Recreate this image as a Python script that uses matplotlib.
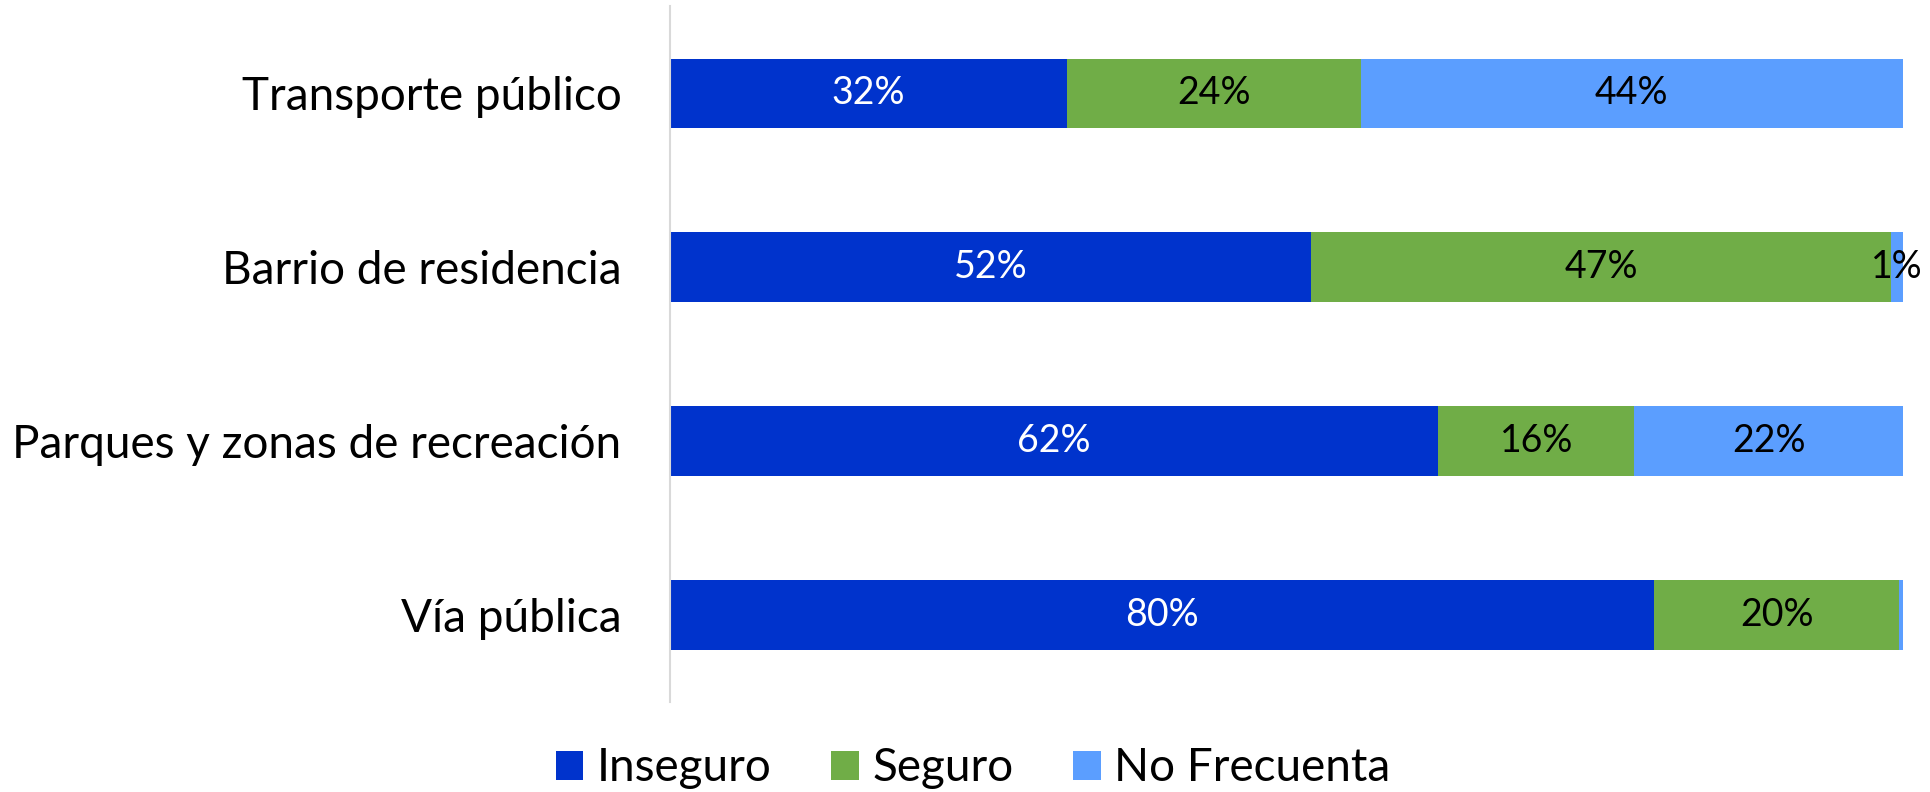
import matplotlib.pyplot as plt
import numpy as np

categorias = ["Transporte público", "Barrio de residencia", "Parques y zonas de recreación", "Vía pública"]
inseguro = [32.2, 52.0, 62.3, 79.8]
seguro = [23.8, 47.0, 15.9, 19.9]
no_frecuenta = [44.0, 1.0, 21.8, 0.3]

series = ["Inseguro", "Seguro", "No Frecuenta"]
colores = ["#0033CC", "#70AD47", "#5B9EFF"]
color_texto = ["white", "black", "black"]

plt.rcParams['font.family'] = ['Lato', 'DejaVu Sans']

fig = plt.figure(figsize=(19.31, 7.92), dpi=100)
ax = fig.add_axes([0.347, 0.1136, 0.6385, 0.8784])

y = np.arange(len(categorias))
left = np.zeros(len(categorias))
for nombre, vals, col, tcol in zip(series, [inseguro, seguro, no_frecuenta], colores, color_texto):
    vals = np.array(vals)
    bars = ax.barh(y, vals, left=left, height=0.4, color=col, label=nombre)
    for b, v, l in zip(bars, vals, left):
        if v >= 0.5:
            ax.text(l + v / 2, b.get_y() + b.get_height() / 2, f"{v:.0f}%",
                    ha='center', va='center', color=tcol, fontsize=27)
    left = left + vals

ax.set_xlim(0, 100)
ax.set_ylim(3.5, -0.5)
ax.set_yticks(y)
ax.set_yticklabels(categorias, fontsize=33)
ax.set_xticks([])
ax.tick_params(axis='y', length=0, pad=35)
for s in ['top', 'right', 'bottom']:
    ax.spines[s].set_visible(False)
ax.spines['left'].set_color('#D9D9D9')
ax.spines['left'].set_linewidth(1.5)

fig.legend(loc='center', bbox_to_anchor=(0.504, 0.03), ncol=3, frameon=False,
           fontsize=33, handlelength=0.6, handleheight=0.6, columnspacing=1.3,
           handletextpad=0.3)

fig.savefig("out.png", dpi=100)
